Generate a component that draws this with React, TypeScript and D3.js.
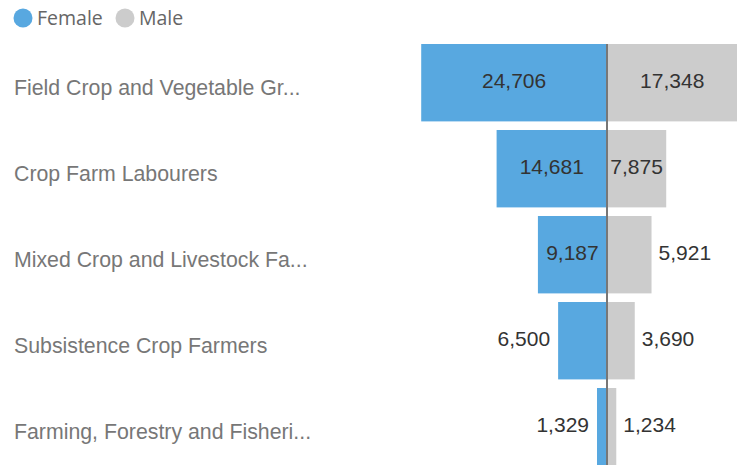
import React, { useRef, useEffect } from "react";
import * as d3 from "d3";

const categories = [
  "Field Crop and Vegetable Gr...",
  "Crop Farm Labourers",
  "Mixed Crop and Livestock Fa...",
  "Subsistence Crop Farmers",
  "Farming, Forestry and Fisheri...",
];
const female = [24706, 14681, 9187, 6500, 1329];
const male = [17348, 7875, 5921, 3690, 1234];
const seriesNames = ["Female", "Male"];
const seriesColors = ["#58a8e0", "#cccccc"];

const W = 737;
const H = 465;
const CENTER = 607;

const App = () => {
  const ref = useRef<SVGSVGElement>(null);

  useEffect(() => {
    const svg = d3.select(ref.current);
    svg.selectAll("*").remove();

    // bar length scale, same for both sides
    const len = d3.scaleLinear().domain([0, 25000]).range([0, 188]);
    const y = d3
      .scaleBand()
      .domain(categories)
      .range([44, 465.4])
      .paddingInner(0.1)
      .paddingOuter(0);

    // legend
    const legend = svg.append("g");
    const lx = [23, 125];
    seriesNames.forEach((name, i) => {
      legend.append("circle").attr("cx", lx[i]).attr("cy", 18).attr("r", 9.5).attr("fill", seriesColors[i]);
      legend
        .append("text")
        .attr("x", lx[i] + 14)
        .attr("y", 25)
        .attr("font-family", "'Segoe UI', 'Open Sans', sans-serif")
        .attr("font-size", 19.5)
        .attr("fill", "#666")
        .text(name);
    });

    // category labels (baseline a bit under the bar middle)
    svg
      .append("g")
      .selectAll("text")
      .data(categories)
      .join("text")
      .attr("x", 14)
      .attr("y", d => y(d)! + y.bandwidth() / 2 + 12.5)
      .attr("font-family", "'Liberation Sans', Arial, sans-serif")
      .attr("font-size", 21.3)
      .attr("fill", "#777")
      .text(d => d);

    const rows = categories.map((c, i) => ({ c, f: female[i], m: male[i] }));

    const bars = svg.append("g");
    bars
      .selectAll("rect.f")
      .data(rows)
      .join("rect")
      .attr("class", "f")
      .attr("x", d => CENTER - len(d.f))
      .attr("y", d => y(d.c)!)
      .attr("width", d => len(d.f))
      .attr("height", y.bandwidth())
      .attr("fill", seriesColors[0]);
    bars
      .selectAll("rect.m")
      .data(rows)
      .join("rect")
      .attr("class", "m")
      .attr("x", CENTER)
      .attr("y", d => y(d.c)!)
      .attr("width", d => len(d.m))
      .attr("height", y.bandwidth())
      .attr("fill", seriesColors[1]);

    svg
      .append("line")
      .attr("x1", CENTER)
      .attr("x2", CENTER)
      .attr("y1", 44)
      .attr("y2", H)
      .attr("stroke", "#777")
      .attr("stroke-width", 2);

    const fmt = d3.format(",");
    const labels = svg.append("g")
      .attr("font-family", "'Liberation Sans', Arial, sans-serif")
      .attr("font-size", 21)
      .attr("fill", "#333");

    rows.forEach(d => {
      const by = y(d.c)! + y.bandwidth() / 2 + 5;
      // female
      const tf = labels.append("text").attr("y", by).text(fmt(d.f));
      const wf = (tf.node() as SVGTextElement).getComputedTextLength();
      const bf = len(d.f);
      if (wf + 4 <= bf) {
        tf.attr("x", CENTER - bf / 2).attr("text-anchor", "middle");
      } else {
        tf.attr("x", CENTER - bf - 8).attr("text-anchor", "end");
      }
      // male
      const tm = labels.append("text").attr("y", by).text(fmt(d.m));
      const wm = (tm.node() as SVGTextElement).getComputedTextLength();
      const bm = len(d.m);
      if (wm + 4 <= bm) {
        tm.attr("x", CENTER + bm / 2).attr("text-anchor", "middle");
      } else {
        tm.attr("x", CENTER + bm + 7).attr("text-anchor", "start");
      }
    });
  }, []);

  return (
    <svg
      ref={ref}
      width={W}
      height={H}
      style={{ position: "absolute", left: 0, top: 0, background: "#fff" }}
    ></svg>
  );
};

export default App;
